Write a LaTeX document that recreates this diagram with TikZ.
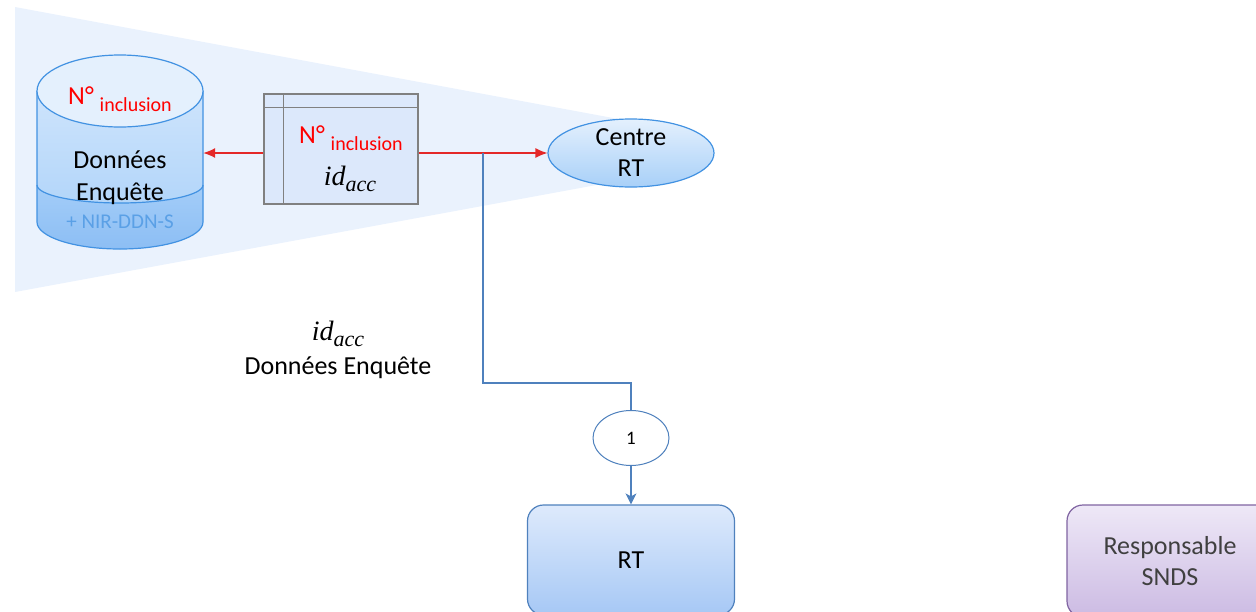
\documentclass[tikz,border=0pt]{standalone}
\usepackage{fontspec}
\setmainfont{Carlito}
\newfontfamily\serifit{Liberation Serif}
\usepackage{xcolor}
\usepackage{tikz}
\usetikzlibrary{arrows.meta,shapes.geometric}

\definecolor{bandblue}{RGB}{234,242,253}
\definecolor{dbline}{RGB}{66,146,226}
\definecolor{dbcap}{RGB}{228,240,253}
\definecolor{dbtop}{RGB}{206,228,252}
\definecolor{dbbot}{RGB}{168,208,248}
\definecolor{dblowtop}{RGB}{164,205,248}
\definecolor{dblowbot}{RGB}{140,190,244}
\definecolor{nirblue}{RGB}{90,160,230}
\definecolor{tabfill}{RGB}{220,232,251}
\definecolor{tabgray}{RGB}{128,128,128}
\definecolor{arrowred}{RGB}{228,40,40}
\definecolor{linkblue}{RGB}{79,129,189}
\definecolor{rttop}{RGB}{222,234,252}
\definecolor{rtbot}{RGB}{166,200,245}
\definecolor{sndstop}{RGB}{238,232,247}
\definecolor{sndsbot}{RGB}{204,187,227}
\definecolor{sndsline}{RGB}{128,100,162}

\newcommand{\ninc}{N°~\raisebox{-7pt}{\fontsize{20}{24}\selectfont inclusion}}
\newcommand{\idacc}{{\serifit\itshape\fontsize{28}{32}\selectfont id\raisebox{-6pt}{\fontsize{22}{26}\selectfont acc}}}

\begin{document}
\begin{tikzpicture}[x=1pt,y=-1pt,
	txt/.style={font=\fontsize{26}{31}\selectfont},
	redtxt/.style={txt,text=red},
	redarrow/.style={-{Latex[length=12pt,width=10pt]},draw=arrowred,line width=1.2pt},
	blueline/.style={draw=linkblue,line width=1.2pt},
	bluearrow/.style={blueline,-{Stealth[length=11pt,width=11pt,inset=3pt]}},
	rtbox/.style={txt,draw=linkblue,line width=1.2pt,rounded corners=16pt,top color=rttop,bottom color=rtbot,minimum width=207pt,minimum height=110pt},
	sndsbox/.style={txt,text=black!75,draw=sndsline,line width=1.2pt,rounded corners=16pt,top color=sndstop,bottom color=sndsbot,minimum width=206pt,minimum height=112pt,align=center}]
	\useasboundingbox (0,0) rectangle (1256,611);
	\clip (0,0) rectangle (1256,611);
	
	% fond
	\fill[bandblue] (15,7) -- (640,123) -- (640,177) -- (15,292) -- cycle;
	
	% base de donnees
	\shade[top color=dbtop,bottom color=dbbot] (37,91) -- (37,222) arc (180:0:83 and 27) -- (203,91) -- cycle;
	\shade[top color=dblowtop,bottom color=dblowbot] (37,185) arc (180:0:83 and 18) -- (203,222) arc (0:180:83 and 27) -- cycle;
	\draw[dbline,line width=1.2pt] (37,185) arc (180:0:83 and 18);
	\draw[dbline,line width=1.2pt] (37,91) -- (37,222) arc (180:0:83 and 27) -- (203,91);
	\draw[dbline,line width=1.2pt,fill=dbcap] (120,91) ellipse (83 and 36);
	\node[minimum width=166pt,minimum height=195pt] (db) at (120,153) {};
	\node[redtxt,anchor=base] at (120,104) {\ninc};
	\node[txt,anchor=base] at (120,168) {Données};
	\node[txt,anchor=base] at (120,200) {Enquête};
	\node[anchor=base,text=nirblue,font=\fontsize{21}{25}\selectfont] at (120,228) {+ NIR-DDN-S};
	
	% table
	\node[draw=tabgray,line width=1.5pt,fill=tabfill,minimum width=154pt,minimum height=110pt] (tab) at (341,149) {};
	\draw[tabgray,line width=1.5pt] ([xshift=20pt]tab.north west) -- ([xshift=20pt]tab.south west);
	\draw[tabgray,line width=1.5pt] ([yshift=-14pt]tab.north west) -- ([yshift=-14pt]tab.north east);
	\node[redtxt,anchor=base] at (351,143) {\ninc};
	\node[anchor=base] at (350,185) {\idacc};
	
	% centre RT
	\node[ellipse,txt,align=center,draw=dbline,line width=1.2pt,top color=dbcap,bottom color=dbbot,minimum width=166pt,minimum height=68pt,inner sep=0pt] (centre) at (631,153) {Centre\\RT};
	
	\draw[redarrow] (tab.west |- db.east) -- (db.east);
	\draw[redarrow] (tab.east |- centre.west) -- (centre.west);
	
	% envoi vers RT
	\coordinate (split) at (483,153);
	\coordinate (bend) at (483,383);
	\node[ellipse,draw=linkblue,line width=1pt,fill=white,minimum width=76pt,minimum height=55pt,inner sep=0pt,font=\fontsize{19}{23}\selectfont] (one) at (631,438) {1};
	\draw[blueline] (split) -- (bend) -| (one.north);
	\node[rtbox] (rt) at (631,560) {RT};
	\draw[bluearrow] (one.south) -- (rt.north);
	
	\node[anchor=base] (lblid) at (338,340) {\idacc};
	\node[txt,anchor=base] (lbldata) at (338,374) {Données Enquête};
	
	\node[sndsbox] (snds) at (1170,561) {Responsable\\SNDS};
\end{tikzpicture}
\end{document}
